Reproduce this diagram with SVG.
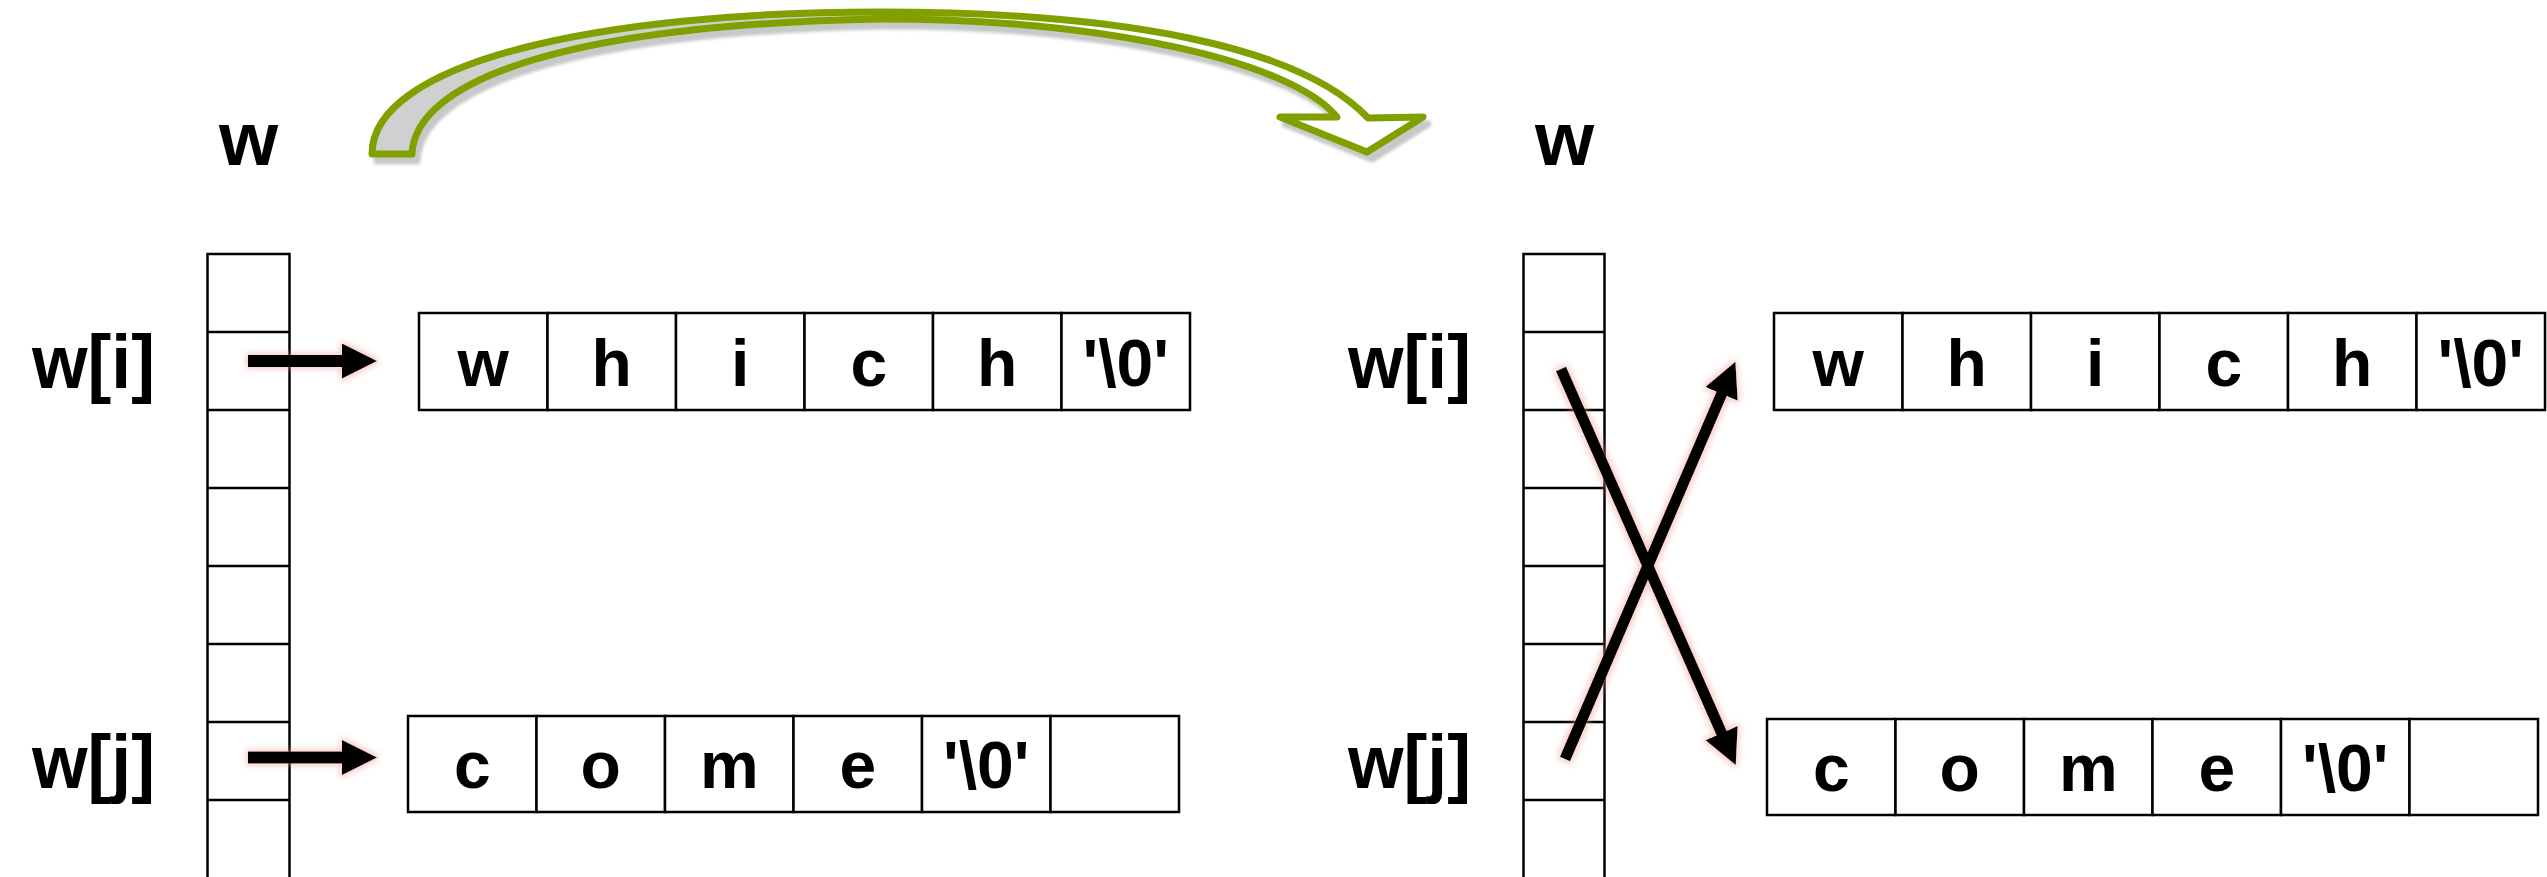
<svg xmlns="http://www.w3.org/2000/svg" width="2547" height="877" viewBox="0 0 2547 877">
<style>
.cell{fill:#fff;stroke:#000;stroke-width:2.5}
.col{fill:#fff;stroke:#000;stroke-width:2.5}
.div{stroke:#000;stroke-width:2.5}
.lbl{font-family:'Liberation Sans',sans-serif;font-weight:bold;font-size:76px;fill:#000}
.ch{font-family:'Liberation Sans',sans-serif;font-weight:bold;font-size:66px;fill:#000;text-anchor:middle}
.ptr{stroke:#000;stroke-width:12;fill:none;marker-end:url(#ah)}
.xptr{stroke:#000;stroke-width:11;fill:none;marker-end:url(#ah)}
</style>
<defs>
<marker id="ah" markerUnits="userSpaceOnUse" markerWidth="36" markerHeight="36" viewBox="0 0 36 36" refX="1" refY="17.5" orient="auto">
<path d="M0,0 L35,17.5 L0,35 Z" fill="#000"/>
</marker>
<filter id="glow" filterUnits="userSpaceOnUse" x="0" y="0" width="2547" height="877">
<feMorphology in="SourceAlpha" operator="dilate" radius="2" result="d"/>
<feGaussianBlur in="d" stdDeviation="3" result="b"/>
<feFlood flood-color="#e89088" flood-opacity="0.45"/>
<feComposite in2="b" operator="in" result="g"/>
<feMerge><feMergeNode in="g"/><feMergeNode in="SourceGraphic"/></feMerge>
</filter>
<filter id="sh" filterUnits="userSpaceOnUse" x="0" y="0" width="2547" height="877">
<feGaussianBlur stdDeviation="1.5"/>
</filter>
<linearGradient id="band" gradientUnits="userSpaceOnUse" x1="372" y1="0" x2="1423" y2="0">
<stop offset="0" stop-color="#d0d0d0"/>
<stop offset="0.5" stop-color="#d0d0d0"/>
<stop offset="0.5" stop-color="#fff"/>
<stop offset="1" stop-color="#fff"/>
</linearGradient>
<path id="curve" d="M372,154 C372,62 600,12 880,12 C1120,12 1300,46 1368,118 L1423,117 L1367,152 L1280,117 L1337,117 C1290,60 1100,19 880,19 C560,25 415,82 412,154 Z"/>
</defs>

<g id="swap-arrow">
<use href="#curve" transform="translate(5,7)" fill="#c8c8c8" stroke="#c8c8c8" stroke-width="7" stroke-linejoin="round" filter="url(#sh)"/>
<use href="#curve" fill="url(#band)" stroke="#80a000" stroke-width="7" stroke-linejoin="round"/>
</g>

<g id="left-w-label"><text class="lbl" x="248.5" y="165" text-anchor="middle">w</text></g>
<g id="right-w-label"><text class="lbl" x="1564.5" y="165" text-anchor="middle">w</text></g>

<g id="left-column">
<rect class="col" x="207.5" y="254" width="82" height="630"/>
<line class="div" x1="207.5" y1="332" x2="289.5" y2="332"/>
<line class="div" x1="207.5" y1="410" x2="289.5" y2="410"/>
<line class="div" x1="207.5" y1="488" x2="289.5" y2="488"/>
<line class="div" x1="207.5" y1="566" x2="289.5" y2="566"/>
<line class="div" x1="207.5" y1="644" x2="289.5" y2="644"/>
<line class="div" x1="207.5" y1="722" x2="289.5" y2="722"/>
<line class="div" x1="207.5" y1="800" x2="289.5" y2="800"/>
</g>
<g id="right-column">
<rect class="col" x="1523.5" y="254" width="81" height="630"/>
<line class="div" x1="1523.5" y1="332" x2="1604.5" y2="332"/>
<line class="div" x1="1523.5" y1="410" x2="1604.5" y2="410"/>
<line class="div" x1="1523.5" y1="488" x2="1604.5" y2="488"/>
<line class="div" x1="1523.5" y1="566" x2="1604.5" y2="566"/>
<line class="div" x1="1523.5" y1="644" x2="1604.5" y2="644"/>
<line class="div" x1="1523.5" y1="722" x2="1604.5" y2="722"/>
<line class="div" x1="1523.5" y1="800" x2="1604.5" y2="800"/>
</g>

<g id="left-wi-label"><text class="lbl" x="32" y="388" textLength="123" lengthAdjust="spacingAndGlyphs">w[i]</text></g>
<g id="left-wj-label"><text class="lbl" x="32" y="788" textLength="123" lengthAdjust="spacingAndGlyphs">w[j]</text></g>
<g id="right-wi-label"><text class="lbl" x="1348" y="388" textLength="123" lengthAdjust="spacingAndGlyphs">w[i]</text></g>
<g id="right-wj-label"><text class="lbl" x="1348" y="788" textLength="123" lengthAdjust="spacingAndGlyphs">w[j]</text></g>

<g id="left-which">
<rect class="cell" x="419" y="313" width="128.5" height="97"/>
<rect class="cell" x="547.5" y="313" width="128.5" height="97"/>
<rect class="cell" x="676" y="313" width="128.5" height="97"/>
<rect class="cell" x="804.5" y="313" width="128.5" height="97"/>
<rect class="cell" x="933" y="313" width="128.5" height="97"/>
<rect class="cell" x="1061.5" y="313" width="128.5" height="97"/>
<text class="ch" x="483.25" y="386">w</text>
<text class="ch" x="611.75" y="386">h</text>
<text class="ch" x="740.25" y="386">i</text>
<text class="ch" x="868.75" y="386">c</text>
<text class="ch" x="997.25" y="386">h</text>
<text class="ch" x="1125.75" y="386">'\0'</text>
</g>
<g id="left-come">
<rect class="cell" x="408" y="716" width="128.5" height="96"/>
<rect class="cell" x="536.5" y="716" width="128.5" height="96"/>
<rect class="cell" x="665" y="716" width="128.5" height="96"/>
<rect class="cell" x="793.5" y="716" width="128.5" height="96"/>
<rect class="cell" x="922" y="716" width="128.5" height="96"/>
<rect class="cell" x="1050.5" y="716" width="128.5" height="96"/>
<text class="ch" x="472.25" y="788">c</text>
<text class="ch" x="600.75" y="788">o</text>
<text class="ch" x="729.25" y="788">m</text>
<text class="ch" x="857.75" y="788">e</text>
<text class="ch" x="986.25" y="788">'\0'</text>
</g>
<g id="right-which">
<rect class="cell" x="1774" y="313" width="128.5" height="97"/>
<rect class="cell" x="1902.5" y="313" width="128.5" height="97"/>
<rect class="cell" x="2031" y="313" width="128.5" height="97"/>
<rect class="cell" x="2159.5" y="313" width="128.5" height="97"/>
<rect class="cell" x="2288" y="313" width="128.5" height="97"/>
<rect class="cell" x="2416.5" y="313" width="128.5" height="97"/>
<text class="ch" x="1838.25" y="386">w</text>
<text class="ch" x="1966.75" y="386">h</text>
<text class="ch" x="2095.25" y="386">i</text>
<text class="ch" x="2223.75" y="386">c</text>
<text class="ch" x="2352.25" y="386">h</text>
<text class="ch" x="2480.75" y="386">'\0'</text>
</g>
<g id="right-come">
<rect class="cell" x="1767" y="719" width="128.5" height="96"/>
<rect class="cell" x="1895.5" y="719" width="128.5" height="96"/>
<rect class="cell" x="2024" y="719" width="128.5" height="96"/>
<rect class="cell" x="2152.5" y="719" width="128.5" height="96"/>
<rect class="cell" x="2281" y="719" width="128.5" height="96"/>
<rect class="cell" x="2409.5" y="719" width="128.5" height="96"/>
<text class="ch" x="1831.25" y="791">c</text>
<text class="ch" x="1959.75" y="791">o</text>
<text class="ch" x="2088.25" y="791">m</text>
<text class="ch" x="2216.75" y="791">e</text>
<text class="ch" x="2345.25" y="791">'\0'</text>
</g>

<g id="connectors" filter="url(#glow)">
<line class="ptr" x1="248" y1="361" x2="343" y2="361"/>
<line class="ptr" x1="248" y1="757.5" x2="343" y2="757.5"/>
<line class="xptr" x1="1561" y1="369" x2="1722" y2="734"/>
<line class="xptr" x1="1565" y1="759" x2="1722" y2="393"/>
</g>
</svg>
